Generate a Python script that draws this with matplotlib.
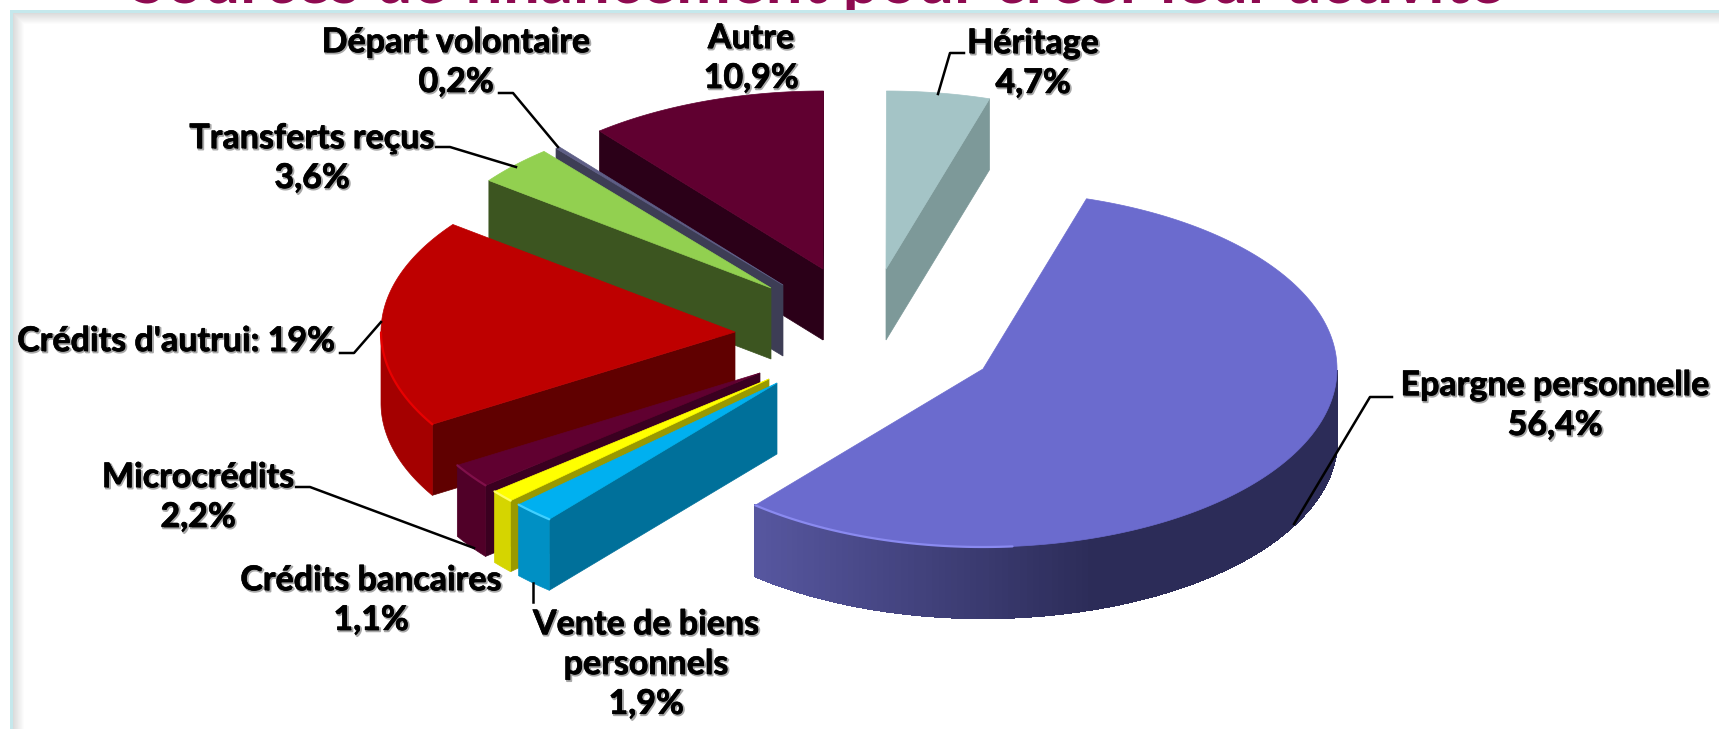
import matplotlib
matplotlib.use("Agg")
import matplotlib.pyplot as plt
import matplotlib.patheffects as pe
from matplotlib.colors import to_rgb
from matplotlib.patches import Rectangle
import numpy as np

# data, clockwise from the big slice
categories = ["Epargne personnelle", "Vente de biens\npersonnels", "Crédits bancaires", "Microcrédits",
              "Crédits d'autrui", "Transferts reçus", "Départ volontaire", "Autre", "Héritage"]
values = [56.4, 1.9, 1.1, 2.2, 19, 3.6, 0.2, 10.9, 4.7]
pct_labels = ["56,4%", "1,9%", "1,1%", "2,2%", "19%", "3,6%", "0,2%", "10,9%", "4,7%"]
title = "Sources de financement pour créer leur activité"

# pie geometry, in pixels of the picture
W, H = 1719, 729
a, b, depth = 354, 178, 71
first_angle = 73
apex_x = [983, 777, 769, 760, 735, 771, 783, 823, 886]
apex_y = [369, 383, 379, 373, 332, 288, 285, 269, 269]
top_col = ["#6B6BCE", "#00B0F0", "#FFFF00", "#600030", "#BE0000", "#92D050", "#5E5E86", "#600030", "#A4C4C6"]
face_col = ["#2C2C58", "#00709A", "#999900", "#3A0020", "#600000", "#3C5520", "#3D3D55", "#2B0018", "#7D9999"]
wall_col = ["#5757A0", "#0090C4", "#D5D500", "#500028", "#A40000", "#3C5520", "#3D3D55", "#2B0018", "#7D9999"]
rim_col = ["#8A8AF0", "#40D0FF", "#FFFF60", "#80104A", "#E80000", None, None, None, None]
draw_order = [8, 7, 6, 5, 4, 3, 2, 1, 0]

# label centre x, y
label_x = [1555, 646, 371, 198, 176, 312, 456, 751, 1033]
label_y = [405, 664, 600, 497, 341, 158, 62, 58, 63]
leaders = [[(1392, 397), (1370, 397), (1294, 524)],
           [(533, 602), (533, 583)],
           None,
           [(296, 487), (310, 487), (474, 548)],
           [(340, 353), (354, 353), (381, 322)],
           [(436, 147), (450, 147), (516, 167)],
           [(499, 93), (513, 93), (558, 147)],
           None,
           [(964, 53), (950, 53), (938, 94)]]

plt.rcParams['font.family'] = ['Lato', 'DejaVu Sans']
fig = plt.figure(figsize=(W / 100, H / 100), dpi=100)
ax = fig.add_axes([0, 0, 1, 1])
ax.set_xlim(0, W)
ax.set_ylim(H, 0)
ax.axis("off")

# title sits behind the frame, only its lower edge shows
# drawn as a path so the cut at the top edge lands where it should
ax.text(130, 3, title, fontsize=47, fontweight="bold", color="#8E0A50", va="baseline", ha="left", zorder=1,
        clip_on=False, path_effects=[pe.Normal()])

# frame with soft shadow
ax.add_patch(Rectangle((10, 10), W, H, fc="white", ec="none", zorder=2))
ax.add_patch(Rectangle((10, 10), W, 3, fc="#C5E8EC", ec="none", zorder=3))
ax.add_patch(Rectangle((10, 10), 3, H, fc="#C5E8EC", ec="none", zorder=3))
for i in range(12):
    g = 0.86 + 0.14 * i / 11
    ax.add_patch(Rectangle((13 + i, 13 + i), 1, H, fc=(g, g, g), ec="none", zorder=3))
    ax.add_patch(Rectangle((13 + i, 13 + i), W, 1, fc=(g, g, g), ec="none", zorder=3))

# angles come from the values
sweeps = 3.6 * np.array(values)
t_start = first_angle - np.concatenate(([0], np.cumsum(sweeps)[:-1]))
t_end = t_start - sweeps


def rim(i, t):
    r = np.radians(t)
    return apex_x[i] + a * np.cos(r), apex_y[i] - b * np.sin(r)


z = 10
for i in draw_order:
    cx, cy = apex_x[i], apex_y[i]
    # cut faces, only those turned to the viewer
    for ang, visible in ((t_end[i], np.cos(np.radians(t_end[i])) > 0),
                         (t_start[i], np.cos(np.radians(t_start[i])) < 0)):
        if visible:
            px, py = rim(i, ang)
            ax.fill([cx, px, px, cx], [cy, py, py + depth, cy + depth], fc=face_col[i], ec=face_col[i], lw=0.5, zorder=z)
    z += 1
    # outer wall
    tt = np.linspace(t_start[i], t_end[i], 200)
    tt = tt[np.sin(np.radians(tt)) < 0]
    if len(tt) > 1:
        xs, ys = rim(i, tt)
        if i == 0:
            c1, c2 = np.array(to_rgb(wall_col[0])), np.array(to_rgb(face_col[0]))
            for k in range(len(tt) - 1):
                f = min(1, (xs[k] - xs.min()) / 340)
                col = c1 + (c2 - c1) * f
                ax.fill([xs[k], xs[k + 1], xs[k + 1], xs[k]], [ys[k], ys[k + 1], ys[k + 1] + depth, ys[k] + depth],
                        fc=col, ec=col, lw=1, antialiased=False, zorder=z)
        else:
            ax.fill(np.r_[xs, xs[::-1]], np.r_[ys, ys[::-1] + depth], fc=wall_col[i], ec=wall_col[i], lw=0.5, zorder=z)
    z += 1
    # top surface
    tt = np.linspace(t_start[i], t_end[i], 300)
    xs, ys = rim(i, tt)
    ax.fill(np.r_[cx, xs], np.r_[cy, ys], fc=top_col[i], ec=top_col[i], lw=0.5, zorder=z)
    z += 1
    if rim_col[i] is not None:
        tf = tt[(np.sin(np.radians(tt)) < 0)]
        if i == 0:
            tf = tf[tf < -85]
        if len(tf) > 1:
            xs, ys = rim(i, tf)
            ax.plot(xs, ys, color=rim_col[i], lw=1.6, zorder=z, solid_capstyle="round")
    z += 1

shadow = [pe.Stroke(linewidth=1.4, foreground="#a8a8a8", offset=(1, -1)), pe.Stroke(linewidth=0.4, foreground="black"), pe.Normal()]
for i in range(len(categories)):
    if leaders[i] is not None:
        ax.plot([p[0] for p in leaders[i]], [p[1] for p in leaders[i]], color="black", lw=1.8, zorder=z)
    if categories[i] == "Crédits d'autrui":
        s = categories[i] + ": " + pct_labels[i]
    else:
        s = categories[i] + "\n" + pct_labels[i]
    ax.text(label_x[i], label_y[i], s, ha="center", va="center", fontsize=24.5, fontweight="bold", color="black",
            linespacing=1.3, path_effects=shadow, zorder=z + 1)

fig.savefig("out.png", dpi=100, facecolor="white")
